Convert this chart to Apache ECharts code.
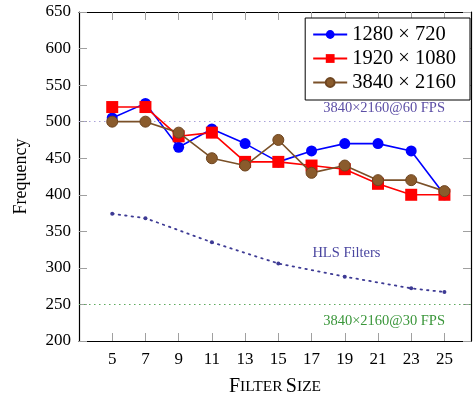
<!DOCTYPE html>
<html>
<head>
<meta charset="utf-8">
<script src="https://cdn.jsdelivr.net/npm/echarts@6/dist/echarts.min.js"></script>
<style>
  html, body { margin: 0; padding: 0; background: #fff; }
  #chart { width: 476px; height: 402px; }
</style>
</head>
<body>
<div id="chart"></div>
<script>
// Filter sizes along the x axis
const filterSizes = [5, 7, 9, 11, 13, 15, 17, 19, 21, 23, 25];
const xTicks = [5, 7, 9, 11, 13, 15, 17, 19, 21, 23, 25];

// Measured frequency per resolution
const freq720 = [505, 525, 465, 490, 470, 445, 460, 470, 470, 460, 400];
const freq1080 = [520, 520, 480, 485, 445, 445, 440, 435, 415, 400, 400];
const freq2160 = [500, 500, 485, 450, 440, 475, 430, 440, 420, 420, 405];

// HLS filter reference curve
const hlsSizes = [5, 7, 11, 15, 19, 23, 25];
const hlsFreq = [374, 368, 335, 306, 288, 272, 267];

// Real-time frequency thresholds
const fps60 = 500;
const fps30 = 250;

const serif = 'Liberation Serif';
const tickColor = '#a0a0a0';

const pairs = (xs, ys) => xs.map((x, i) => [x, ys[i]]);

const chart = echarts.init(document.getElementById('chart'));

const commonX = {
  type: 'value', min: 3, max: 26.6,
  axisLine: { show: true, lineStyle: { color: '#000', width: 1.2 } },
  splitLine: { show: false }
};
const commonY = {
  type: 'value', min: 200, max: 650, interval: 50,
  axisLine: { show: true, lineStyle: { color: '#000', width: 1.2 } },
  splitLine: { show: false }
};

chart.setOption({
  animation: false,
  backgroundColor: '#fff',
  grid: { left: 79, right: 5, top: 12, bottom: 60 },
  xAxis: [
    Object.assign({}, commonX, {
      position: 'bottom',
      name: '{a|F}{b|ILTER} {a|S}{b|IZE}',
      nameLocation: 'middle', nameGap: 36,
      nameTextStyle: {
        rich: {
          a: { fontFamily: serif, fontSize: 20, color: '#000' },
          b: { fontFamily: serif, fontSize: 15.5, color: '#000' }
        }
      },
      axisTick: { show: true, inside: true, length: 8, customValues: xTicks, lineStyle: { color: tickColor } },
      axisLabel: { show: true, customValues: xTicks, margin: 10, fontFamily: serif, fontSize: 17, color: '#000' }
    }),
    Object.assign({}, commonX, {
      position: 'top',
      axisTick: { show: true, inside: true, length: 8, customValues: xTicks, lineStyle: { color: tickColor } },
      axisLabel: { show: false }
    })
  ],
  yAxis: [
    Object.assign({}, commonY, {
      position: 'left',
      name: 'Frequency',
      nameLocation: 'middle', nameGap: 49, nameRotate: 90,
      nameTextStyle: { fontFamily: serif, fontSize: 18, color: '#000' },
      axisTick: { show: true, inside: true, length: 8, lineStyle: { color: tickColor } },
      axisLabel: { margin: 8, fontFamily: serif, fontSize: 17, color: '#000' }
    }),
    Object.assign({}, commonY, {
      position: 'right',
      axisTick: { show: true, inside: true, length: 8, lineStyle: { color: tickColor } },
      axisLabel: { show: false }
    })
  ],
  legend: {
    orient: 'vertical',
    right: 6, top: 18,
    backgroundColor: '#fff',
    borderColor: '#000', borderWidth: 1,
    padding: [6, 14, 7, 7],
    itemWidth: 34, itemHeight: 11, itemGap: 3,
    textStyle: { fontFamily: serif, fontSize: 20.5, color: '#000' },
    data: ['1280 × 720', '1920 × 1080', '3840 × 2160']
  },
  series: [
    {
      name: 'HLS Filters', type: 'line',
      data: pairs(hlsSizes, hlsFreq),
      symbol: 'circle', symbolSize: 4,
      itemStyle: { color: '#3d3a94' },
      lineStyle: { color: '#3d3a94', width: 1.8, type: [1.5, 5], cap: 'round' },
      z: 1,
      markLine: {
        silent: true, symbol: 'none',
        lineStyle: { type: [1.5, 3.5], width: 1 },
        data: [
          { yAxis: fps60, lineStyle: { color: '#a9a1d8' },
            label: { show: true, position: 'insideEndTop', formatter: '3840×2160@60 FPS',
              distance: [26, 6], fontFamily: serif, fontSize: 14.5, color: '#5c4ea6' } },
          { yAxis: fps30, lineStyle: { color: '#5caa5c' },
            label: { show: true, position: 'insideEndBottom', formatter: '3840×2160@30 FPS',
              distance: [26, 9], fontFamily: serif, fontSize: 14.5, color: '#3a963a' } }
        ]
      }
    },
    {
      name: '1280 × 720', type: 'line',
      data: pairs(filterSizes, freq720),
      symbol: 'circle', symbolSize: 11,
      itemStyle: { color: '#0000ff' },
      lineStyle: { color: '#0000ff', width: 1.6 },
      z: 3
    },
    {
      name: '1920 × 1080', type: 'line',
      data: pairs(filterSizes, freq1080),
      symbol: 'rect', symbolSize: 12,
      itemStyle: { color: '#ff0000' },
      lineStyle: { color: '#ff0000', width: 1.6 },
      z: 4
    },
    {
      name: '3840 × 2160', type: 'line',
      data: pairs(filterSizes, freq2160),
      symbol: 'circle', symbolSize: 11,
      itemStyle: { color: '#8a5b2c', borderColor: '#6e4520', borderWidth: 1 },
      lineStyle: { color: '#7a5028', width: 1.6 },
      z: 5
    }
  ]
});

// Caption for the HLS curve, anchored in data space
const hlsPos = chart.convertToPixel({ xAxisIndex: 0, yAxisIndex: 0 }, [19.1, 320]);
chart.setOption({
  graphic: [{
    type: 'text', x: hlsPos[0], y: hlsPos[1],
    style: { text: 'HLS Filters', font: '14.5px "Liberation Serif"', fill: '#4a46a0', align: 'center', verticalAlign: 'middle' }
  }]
});
</script>
</body>
</html>
